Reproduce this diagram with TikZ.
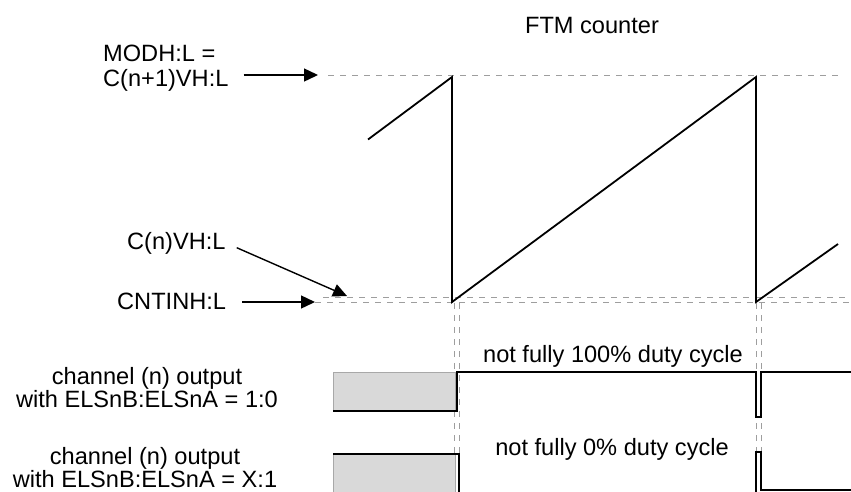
\documentclass[tikz,border=0pt]{standalone}
\usepackage{fontspec}
\setmainfont{Liberation Sans}
\usepackage{xcolor}
\usepackage{tikz}
\usetikzlibrary{arrows.meta}
\definecolor{guidegray}{HTML}{9E9E9E}
\definecolor{fillidle}{HTML}{D9D9D9}
\definecolor{edgeidle}{HTML}{A8A8A8}
\tikzset{
  lbl/.style={inner sep=0pt, font=\fontsize{23.6}{25}\selectfont},
  chlbl/.style={lbl, align=center, anchor=north, font=\fontsize{23.6}{23.6}\selectfont},
  ptr/.style={-{Triangle[length=14pt, width=13pt]}, line width=1.4pt, draw=black},
  guide/.style={draw=guidegray, line width=0.9pt, dash pattern=on 6pt off 6pt},
  wave/.style={draw=black, line width=1.8pt, line join=miter},
  idle/.style={fill=fillidle, draw=edgeidle, line width=0.9pt},
}

\begin{document}
\begin{tikzpicture}[x=1pt, y=-1pt]
\useasboundingbox (0,0) rectangle (851,491);
\clip (0,0) rectangle (851,491);

\node[lbl, anchor=base] (title) at (592,33) {FTM counter};
\node[lbl, align=left, anchor=north west] (modh) at (103,45) {MODH:L =\\C(n+1)VH:L};
\node[lbl, anchor=base west] (cnv) at (127,249) {C(n)VH:L};
\node[lbl, anchor=base west] (cntin) at (117,309) {CNTINH:L};
\node[chlbl] (ch1) at (147,367) {channel (n) output\\with ELSnB:ELSnA = 1:0};
\node[chlbl] (ch2) at (145,447) {channel (n) output\\with ELSnB:ELSnA = X:1};
\node[lbl, anchor=base] (duty100) at (613,362) {not fully 100\% duty cycle};
\node[lbl, anchor=base] (duty0) at (612,455) {not fully 0\% duty cycle};

\coordinate (modhtip) at (318,75);
\coordinate (cnvtip) at (347,296);
\coordinate (cntintip) at (315,302);

\draw[guide] (328,75) -- (842,75);
\draw[guide] (323,297) -- (851,297);
\draw[guide] (cntintip) -- (851,302);
\foreach \t in {454,459,756,761}
  \draw[guide] (\t,303) -- (\t,491);

\draw[wave] (368,139.5) -- (452,77) -- (452,302) -- (756,77) -- (756,302) -- (838,244);

\draw[idle] (333,372) rectangle (455,411);
\draw[wave] (333,411) -- (457,411) -- (457,372) -- (756,372) -- (756,417) -- (761,417) -- (761,372) -- (851,372);

\draw[idle] (333,454) rectangle (455,496);
\draw[wave] (333,454) -- (459,454) -- (459,496);
\draw[wave] (756,496) -- (756,452) -- (761,452) -- (761,490) -- (851,490);

\draw[ptr, shorten <=15pt] (modh.east |- modhtip) -- (modhtip);
\draw[ptr, shorten <=12pt] (cnv.east) -- (cnvtip);
\draw[ptr, shorten <=16pt] (cntin.east |- cntintip) -- (cntintip);

\end{tikzpicture}
\end{document}
